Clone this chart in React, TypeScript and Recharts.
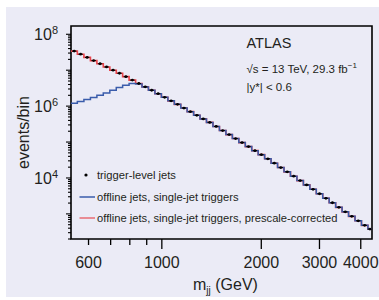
import React from 'react';
import { ComposedChart, Line, Scatter, XAxis, YAxis, ReferenceArea } from 'recharts';

// Bin edges of m_jj (GeV)
const binEdges = [
  531, 555, 581, 608, 636, 665, 696, 728, 761, 796, 833, 871, 911, 953, 997, 1043,
  1091, 1141, 1193, 1248, 1305, 1365, 1428, 1494, 1563, 1635, 1710, 1789, 1871, 1957,
  2047, 2141, 2240, 2343, 2451, 2564, 2682, 2805, 2934, 3069, 3210, 3358, 3512, 3674,
  3843, 4020, 4205, 4326,
];

// trigger-level jets (events / bin)
const triggerLevel = [
  34000000, 27900000, 22700000, 18500000, 15100000, 12300000, 10000000, 8220000, 6610000,
  5300000, 4260000, 3440000, 2770000, 2220000, 1760000, 1400000, 1120000, 885000, 702000,
  556000, 441000, 352000, 272000, 209000, 161000, 125000, 96600, 74600, 57700, 44600,
  34200, 25800, 19500, 14800, 11200, 8450, 6410, 4830, 3640, 2720, 2040, 1520, 1140, 853,
  643, 479, 377,
];

// offline jets, single-jet triggers
const offlineSingleJet = [
  1210000, 1340000, 1520000, 1730000, 2000000, 2310000, 2770000, 3290000, 3820000,
  4240000, 4120000, 3420000, 2770000, 2220000, 1760000, 1400000, 1120000, 885000, 702000,
  556000, 441000, 352000, 272000, 209000, 161000, 125000, 96600, 74600, 57700, 44600,
  34200, 25800, 19500, 14800, 11200, 8450, 6410, 4830, 3640, 2720, 2040, 1520, 1140, 853,
  643, 479, 377,
];

// offline jets, single-jet triggers, prescale-corrected
const offlinePrescaleCorrected = [
  34000000, 27900000, 22700000, 18500000, 15100000, 12300000, 10000000, 8220000, 6610000,
  5300000, 4260000, 3440000, 2770000, 2220000, 1760000, 1400000, 1120000, 885000, 702000,
  556000, 441000, 352000, 272000, 209000, 161000, 125000, 96600, 74600, 57700, 44600,
  34200, 25800, 19500, 14800, 11200, 8450, 6410, 4830, 3640, 2720, 2040, 1520, 1140, 853,
  643, 479, 377,
];

const xTicks = [600, 700, 800, 900, 1000, 2000, 3000, 4000];
const xTickLabels = ['600', '', '', '', '1000', '2000', '3000', '4000'];
const yLabeledDecades = [4, 6, 8];
const minorMultipliers = [2, 3, 4, 5, 6, 7, 8, 9];

const X_DOMAIN: [number, number] = [531, 4326];
const Y_DOMAIN: [number, number] = [200, 1.7e8];

const FONT = '"Liberation Sans", Arial, Helvetica, sans-serif';
const TEXT = '#231f20';
const RED = '#e8434a';
const BLUE = '#3a5cab';

const nBins = binEdges.length - 1;
const stepData = binEdges.map((m, i) => ({
  m,
  red: offlinePrescaleCorrected[Math.min(i, nBins - 1)],
  blue: offlineSingleJet[Math.min(i, nBins - 1)],
}));
const pointData = triggerLevel.map((v, i) => ({
  m: Math.sqrt(binEdges[i] * binEdges[i + 1]),
  trig: v,
}));

const yTicks: number[] = [];
[2, 3, 4, 5, 6, 7].forEach((d) => {
  yTicks.push(Math.pow(10, d));
  minorMultipliers.forEach((k) => yTicks.push(k * Math.pow(10, d)));
});
yTicks.push(1e8);
const yTicksInRange = yTicks.filter((v) => v >= Y_DOMAIN[0] && v <= Y_DOMAIN[1]);

const renderXTick = (props: any) => {
  const { x, y, payload } = props;
  const v = payload.value;
  const idx = xTicks.indexOf(v);
  const label = idx >= 0 ? xTickLabels[idx] : '';
  const major = v >= 1000;
  return (
    <g key={`xt-${v}`}>
      <line x1={x} x2={x} y1={y} y2={y + (major ? 10 : 6)} stroke="#000" strokeWidth={1.3} />
      {label ? (
        <text x={x} y={y + 29} textAnchor="middle" fontSize={16} fontFamily={FONT} fill={TEXT}>
          {label}
        </text>
      ) : null}
    </g>
  );
};

const renderYTick = (props: any) => {
  const { x, y, payload } = props;
  const v = payload.value;
  const e = Math.log10(v);
  const isMajor = Math.abs(e - Math.round(e)) < 1e-6;
  const exp = Math.round(e);
  const labeled = isMajor && yLabeledDecades.includes(exp);
  return (
    <g key={`yt-${v}`}>
      <line x1={x - (isMajor ? 5 : 3)} x2={x} y1={y} y2={y} stroke="#000" strokeWidth={1.1} />
      {labeled ? (
        <text x={x - 13} y={y + 6} textAnchor="end" fontSize={16} fontFamily={FONT} fill={TEXT}>
          10
          <tspan dy={-6} fontSize={11}>
            {exp}
          </tspan>
        </text>
      ) : null}
    </g>
  );
};

const renderDot = (props: any) => {
  const { cx, cy } = props;
  if (cx == null || cy == null) return <g />;
  return (
    <g>
      <line x1={cx - 2.2} x2={cx + 2.2} y1={cy} y2={cy} stroke="#000" strokeWidth={1.1} />
      <circle cx={cx} cy={cy} r={1.4} fill="#000" />
    </g>
  );
};

export default function App() {
  return (
    <div style={{ position: 'absolute', left: 0, top: 0, width: 379, height: 300, background: '#fff' }}>
      <div
        style={{ position: 'absolute', left: 6, top: 7, width: 373, height: 290, background: '#ebebf6' }}
      />
      <div style={{ position: 'absolute', left: 0, top: 0 }}>
        <ComposedChart
          width={379}
          height={300}
          data={stepData}
          margin={{ top: 26, right: 7, bottom: 60, left: 70 }}
        >
          <XAxis
            dataKey="m"
            type="number"
            scale="log"
            domain={X_DOMAIN}
            allowDataOverflow
            ticks={xTicks}
            interval={0}
            tick={renderXTick}
            tickLine={false}
            axisLine={false}
            tickSize={0}
            tickMargin={0}
            height={1}
          />
          <YAxis
            type="number"
            scale="log"
            domain={Y_DOMAIN}
            allowDataOverflow
            ticks={yTicksInRange}
            interval={0}
            tick={renderYTick}
            tickLine={false}
            axisLine={false}
            tickSize={0}
            tickMargin={0}
            width={1}
          />
          <Line
            dataKey="red"
            type="stepAfter"
            stroke={RED}
            strokeWidth={1.6}
            dot={false}
            isAnimationActive={false}
          />
          <Line
            dataKey="blue"
            type="stepAfter"
            stroke={BLUE}
            strokeWidth={1.5}
            dot={false}
            isAnimationActive={false}
          />
          <Scatter data={pointData} dataKey="trig" shape={renderDot} isAnimationActive={false} />
          <ReferenceArea
            x1={X_DOMAIN[0]}
            x2={X_DOMAIN[1]}
            y1={Y_DOMAIN[0]}
            y2={Y_DOMAIN[1]}
            fill="none"
            fillOpacity={0}
            stroke="#000"
            strokeWidth={1.6}
          />
          <text
            transform="translate(28.5,132.5) rotate(-90)"
            textAnchor="middle"
            fontSize={16}
            fontFamily={FONT}
            fill={TEXT}
          >
            events/bin
          </text>
          <text x={193} y={290} fontSize={16} fontFamily={FONT} fill={TEXT}>
            m
            <tspan dy={4} fontSize={10}>
              jj
            </tspan>
            <tspan dy={-4} fontSize={16}>
              {' (GeV)'}
            </tspan>
          </text>
          <text x={246.5} y={48.3} fontSize={14.5} fontFamily={FONT} fill={TEXT}>
            ATLAS
          </text>
          <text x={246.5} y={72.5} fontSize={11.5} fontFamily={FONT} fill={TEXT}>
            √s = 13 TeV, 29.3 fb
            <tspan dy={-5} fontSize={8}>
              −1
            </tspan>
          </text>
          <text x={246.5} y={91} fontSize={11.5} fontFamily={FONT} fill={TEXT}>
            |y*| &lt; 0.6
          </text>
          <circle cx={86} cy={175} r={1.6} fill="#000" />
          <text x={97} y={179} fontSize={11.2} fontFamily={FONT} fill={TEXT}>
            trigger-level jets
          </text>
          <line x1={79.5} x2={95} y1={197} y2={197} stroke={BLUE} strokeWidth={1.5} />
          <text x={97} y={200.5} fontSize={11.2} fontFamily={FONT} fill={TEXT}>
            offline jets, single-jet triggers
          </text>
          <line x1={79.5} x2={95} y1={218} y2={218} stroke={RED} strokeWidth={1.5} strokeOpacity={0.75} />
          <text x={97} y={221.5} fontSize={11.2} fontFamily={FONT} fill={TEXT}>
            offline jets, single-jet triggers, prescale-corrected
          </text>
        </ComposedChart>
      </div>
    </div>
  );
}
